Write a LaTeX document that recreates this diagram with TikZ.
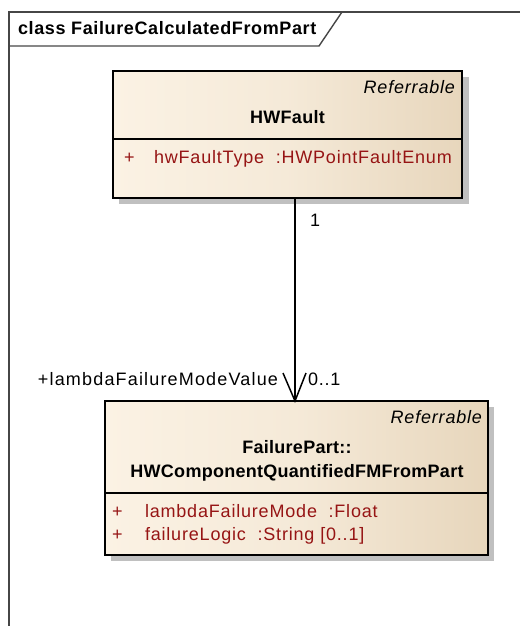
\documentclass[tikz,border=0pt]{standalone}
\usepackage{fontspec}
\setmainfont{Liberation Sans}
\newfontfamily\spaced{Liberation Sans}[LetterSpace=4.5]
\newfontfamily\widespaced{Liberation Sans}[LetterSpace=6.5]
\newfontfamily\namefont{Liberation Sans Bold}[LetterSpace=1.5]
\newfontfamily\titlefont{Liberation Sans Bold}[LetterSpace=3.5]
\usetikzlibrary{arrows.meta,calc}

\definecolor{attrred}{RGB}{150,20,20}
\definecolor{fillL}{RGB}{251,242,228}
\definecolor{fillR}{RGB}{231,214,188}
\definecolor{shadowgray}{RGB}{192,192,192}
\definecolor{framegray}{RGB}{70,70,70}

\tikzset{
  txt/.style={inner sep=0pt, outer sep=0pt, font=\fontsize{18}{22}\selectfont\spaced},
  boldtxt/.style={inner sep=0pt, outer sep=0pt, font=\fontsize{18}{22}\selectfont\namefont},
  stereo/.style={txt, font=\fontsize{18}{22}\selectfont\spaced\itshape, anchor=base east},
  attr/.style={txt, text=attrred, anchor=base west},
  classbox/.style={draw=black, line width=1.8pt, left color=fillL, right color=fillR, middle color=fillL!70!fillR},
  shadowbox/.style={fill=shadowgray, draw=none},
  divider/.style={draw=black, line width=1.6pt},
  assoc/.style={draw=black, line width=1.5pt},
  frameline/.style={draw=framegray, line width=1.4pt}
}

\begin{document}
\begin{tikzpicture}[x=1pt, y=-1pt]
\useasboundingbox (0,0) rectangle (520,626);

% diagram frame with name tab
\draw[frameline] (9,626) -- (9,12) -- (520,12);
\draw[frameline] (9,46) -- (319,46) -- (342,12);
\node[inner sep=0pt, outer sep=0pt, font=\fontsize{18}{22}\selectfont\titlefont, anchor=base west] (title) at (18,35) {class FailureCalculatedFromPart};

% class HWFault
\fill[shadowbox] (119,77) rectangle (469,204);
\path[classbox] (113,71) rectangle (462,198);
\coordinate (hwBot) at (295,198);
\draw[divider] (113,139) -- (462,139);
\node[stereo] (hwStereo) at (455,93) {Referrable};
\node[boldtxt, anchor=base] (hwName) at (287.5,123) {HWFault};
\node[attr] (hwVis) at (124,163) {+};
\node[attr] (hwAttr) at (154,163) {hwFaultType\ \ :HWPointFaultEnum};

% class HWComponentQuantifiedFMFromPart
\fill[shadowbox] (111,407) rectangle (494,561);
\path[classbox] (105,401) rectangle (488,555);
\coordinate (fmTop) at (295,401);
\draw[divider] (105,493) -- (488,493);
\node[stereo] (fmStereo) at (482,423) {Referrable};
\node[boldtxt, anchor=base] (fmPkg) at (297,453) {FailurePart::};
\node[boldtxt, anchor=base] (fmName) at (297,477) {HWComponentQuantifiedFMFromPart};
\node[attr] (fmVis1) at (112,517) {+};
\node[attr] (fmAttr1) at (145,517) {lambdaFailureMode\ \ :Float};
\node[attr] (fmVis2) at (112,540) {+};
\node[attr] (fmAttr2) at (145,540) {failureLogic\ \ :String [0..1]};

% directed association
\draw[assoc] (hwBot) -- (fmTop);
\draw[assoc] ($(fmTop)+(-12,-28)$) -- (fmTop) -- ($(fmTop)+(11,-28)$);
\node[txt, anchor=base west] (srcMult) at (310,226) {1};
\node[txt, font=\fontsize{18}{22}\selectfont\widespaced, anchor=base east] (roleName) at (278,385) {+lambdaFailureModeValue};
\node[txt, anchor=base west] (dstMult) at (308,385) {0..1};
\end{tikzpicture}
\end{document}
